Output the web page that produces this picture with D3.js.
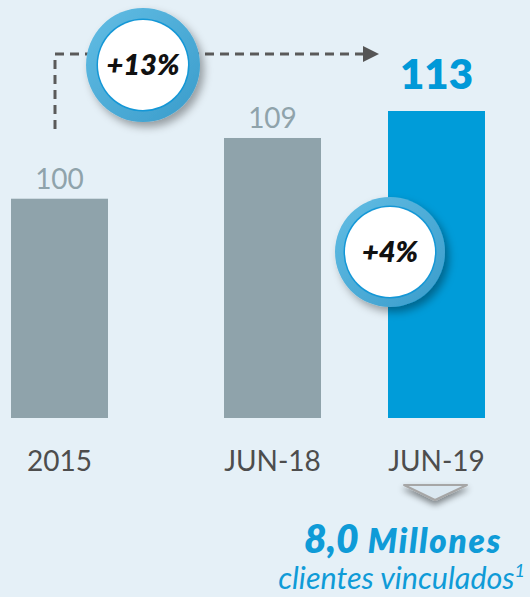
<!DOCTYPE html>
<html><head><meta charset="utf-8">
<script src="https://cdn.jsdelivr.net/npm/d3@7/dist/d3.min.js"></script>
<style>html,body{margin:0;padding:0;background:#e5f0f7;}svg{display:block;}</style>
</head><body>
<svg id="c" width="530" height="597"></svg>
<script>
const categories = ["2015", "JUN-18", "JUN-19"];
const values = [100, 109, 113];
const valueLabels = ["100", "109", "113"];
const growthLabels = ["+13%", "+4%"];
const totalValue = "8,0";
const totalUnit = "Millones";
const subtitle = "clientes vinculados";

const W = 530, H = 597;
const svg = d3.select("#c");
svg.append("rect").attr("width", W).attr("height", H).attr("fill", "#e5f0f7");

const defs = svg.append("defs");
const sh = defs.append("filter").attr("id", "sh").attr("x", "-30%").attr("y", "-30%").attr("width", "170%").attr("height", "170%");
sh.append("feDropShadow").attr("dx", 4).attr("dy", 5).attr("stdDeviation", 4).attr("flood-color", "#000").attr("flood-opacity", 0.35);
const sh2 = defs.append("filter").attr("id", "sh2").attr("x", "-30%").attr("y", "-30%").attr("width", "160%").attr("height", "200%");
sh2.append("feDropShadow").attr("dx", 0).attr("dy", 4).attr("stdDeviation", 3).attr("flood-color", "#000").attr("flood-opacity", 0.45);
const rg = defs.append("linearGradient").attr("id", "ring").attr("x1", "0").attr("y1", "0").attr("x2", "1").attr("y2", "1");
rg.append("stop").attr("offset", "0").attr("stop-color", "#62bde4");
rg.append("stop").attr("offset", "1").attr("stop-color", "#3a9ccb");

// bar slots (left edges) are laid out unevenly in the original slide
const x = d3.scaleOrdinal().domain(categories).range([11, 224, 388]);
const bw = 97;
const y = d3.scaleLinear().domain([67.5, 113]).range([418, 111]);

const barColor = (d, i) => i === 2 ? "#009cd9" : "#8fa3ab";

svg.selectAll("rect.bar").data(values).join("rect").attr("class", "bar")
  .attr("x", (d, i) => x(categories[i]))
  .attr("width", bw)
  .attr("y", d => y(d))
  .attr("height", d => y(67.5) - y(d))
  .attr("fill", barColor);

const font = "Lato, 'Open Sans', sans-serif";

svg.selectAll("text.val").data(values).join("text").attr("class", "val")
  .attr("x", (d, i) => x(categories[i]) + bw / 2)
  .attr("y", (d, i) => y(d) - (i === 2 ? 22 : 10))
  .attr("text-anchor", "middle")
  .attr("font-family", font)
  .attr("font-size", (d, i) => i === 2 ? 42 : 28)
  .attr("font-weight", (d, i) => i === 2 ? 800 : 400)
  .attr("fill", (d, i) => i === 2 ? "#0099d8" : "#8fa3ab")
  .text((d, i) => valueLabels[i]);

svg.selectAll("text.cat").data(categories).join("text").attr("class", "cat")
  .attr("x", d => x(d) + bw / 2)
  .attr("y", 471)
  .attr("text-anchor", "middle")
  .attr("font-family", font)
  .attr("font-size", 28)
  .attr("fill", "#4d4d4d")
  .text(d => d);

// dashed arrow
const dash = svg.append("g");
dash.append("path")
  .attr("d", `M55,129 L55,54 L364,54`)
  .attr("fill", "none").attr("stroke", "#5a5a5a").attr("stroke-width", 3)
  .attr("stroke-dasharray", "9,6");
dash.append("path").attr("d", "M363,46 L379,54 L363,62 Z").attr("fill", "#555");

function badge(cx, cy, ro, ri, label) {
  const g = svg.append("g");
  g.append("circle").attr("cx", cx).attr("cy", cy).attr("r", ro).attr("fill", "url(#ring)").attr("filter", "url(#sh)");
  g.append("circle").attr("cx", cx).attr("cy", cy).attr("r", ri + 1.5).attr("fill", "#1497d6");
  g.append("circle").attr("cx", cx).attr("cy", cy).attr("r", ri).attr("fill", "#ffffff");
  g.append("text").attr("x", cx).attr("y", cy + 10).attr("text-anchor", "middle")
    .attr("font-family", font).attr("font-style", "italic").attr("font-weight", 800)
    .attr("font-size", 29).attr("fill", "#111").text(label);
}
badge(143, 65, 57, 45, growthLabels[0]);
badge(390, 252, 55, 45, growthLabels[1]);

// down triangle
svg.append("path").attr("d", "M404,485 L467,485 L435,500 Z")
  .attr("fill", "#dbe8f1").attr("stroke", "#a6a6a6").attr("stroke-width", 2)
  .attr("stroke-linejoin", "round").attr("filter", "url(#sh2)");

const t1 = svg.append("text").attr("x", 502).attr("y", 553).attr("text-anchor", "end")
  .attr("font-family", font).attr("font-style", "italic").attr("font-weight", 800).attr("fill", "#0f9bd7");
t1.append("tspan").attr("font-size", 39).text(totalValue);
t1.append("tspan").attr("font-size", 33).attr("dx", 9).attr("letter-spacing", 1.8).text(totalUnit);

const t2 = svg.append("text").attr("x", 525).attr("y", 589).attr("text-anchor", "end")
  .attr("font-family", font).attr("font-style", "italic").attr("fill", "#0f9bd7").attr("font-size", 30.5);
t2.append("tspan").text(subtitle);
t2.append("tspan").attr("font-size", 18).attr("dy", -12).text("1");
</script>
</body></html>
